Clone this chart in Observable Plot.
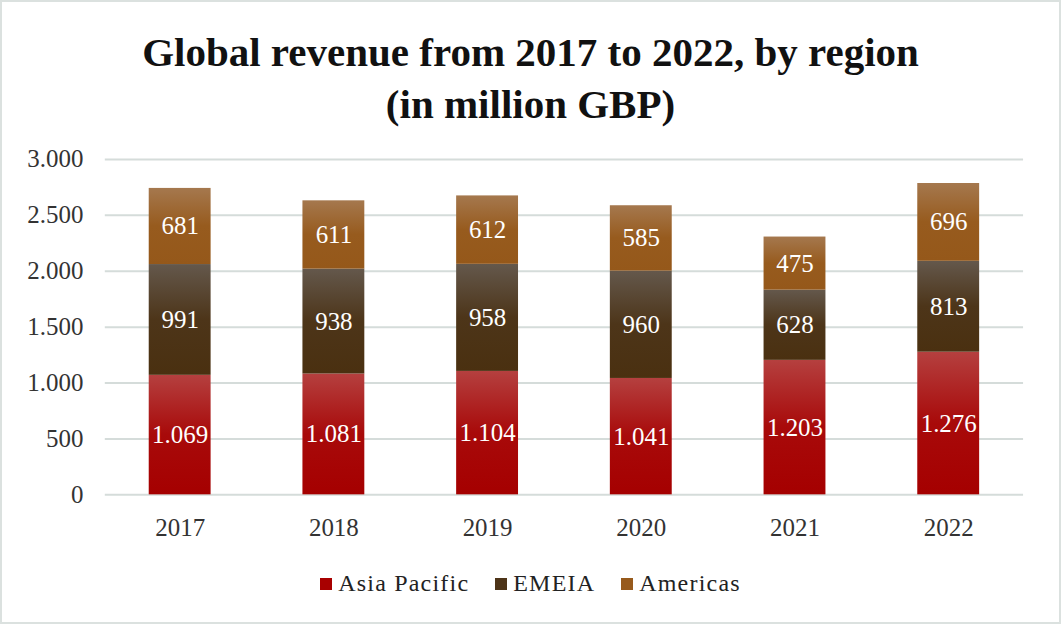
<!DOCTYPE html>
<html>
<head>
<meta charset="utf-8">
<script src="https://cdn.jsdelivr.net/npm/d3@7"></script>
<script src="https://cdn.jsdelivr.net/npm/@observablehq/plot@0.6"></script>
<style>
  html, body { margin: 0; padding: 0; background: #fff; }
  #wrap { position: relative; width: 1061px; height: 624px; box-sizing: border-box; border: 2px solid #dbe1df; overflow: hidden; font-family: "Liberation Serif", "Times New Roman", serif; }
  #title { position: absolute; top: 24px; left: 0; width: 100%; text-align: center; font-weight: 700; font-size: 41px; line-height: 52px; color: #111; }
  #chart { position: absolute; top: 138px; left: -2px; }
  #legend { position: absolute; top: 568px; left: 0; width: 100%; display: flex; justify-content: center; gap: 26px; font-size: 24px; letter-spacing: 1.2px; color: #222; }
  #legend span.item { display: flex; align-items: center; }
  #legend i { display: inline-block; width: 12px; height: 12px; margin-right: 6px; }
</style>
</head>
<body>
<div id="wrap">
  <div id="title">Global revenue from 2017 to 2022, by region<br>(in million GBP)</div>
  <div id="chart"></div>
  <div id="legend"></div>
</div>
<script>
const years = ["2017", "2018", "2019", "2020", "2021", "2022"];
const regions = ["Asia Pacific", "EMEIA", "Americas"];
const asiaPacific = [1069, 1081, 1104, 1041, 1203, 1276];
const emeia = [991, 938, 958, 960, 628, 813];
const americas = [681, 611, 612, 585, 475, 696];
const yTicks = [0, 500, 1000, 1500, 2000, 2500, 3000];
const solidColors = ["#a80000", "#4d3418", "#975a1c"];
const gradientStops = [
  ["#b5403f", "#a80a0a", "#a50000"],
  ["#64584c", "#4d3519", "#4a3010"],
  ["#a5784e", "#975b1e", "#95581a"]
];

const series = [asiaPacific, emeia, americas];
const data = [];
years.forEach((yr, i) => {
  regions.forEach((r, j) => data.push({year: yr, region: r, value: series[j][i]}));
});

const locale = d3.formatLocale({decimal: ",", thousands: ".", grouping: [3], currency: ["", ""]});
const fmt = locale.format(",d");

const gradIds = ["gAsia", "gEmeia", "gAmericas"];

const plot = Plot.plot({
  width: 1061,
  height: 420,
  marginTop: 19,
  marginBottom: 65,
  marginLeft: 105,
  marginRight: 36,
  style: {fontFamily: "'Liberation Serif', 'Times New Roman', serif", fontSize: "25px", color: "#333", background: "transparent"},
  x: {domain: years, paddingInner: 0.6, paddingOuter: 0.28, label: null},
  y: {domain: [0, 3000], ticks: yTicks, label: null},
  color: {domain: regions, range: gradIds.map(id => `url(#${id})`)},
  marks: [
    Plot.gridY(yTicks, {stroke: "#d5dcda", strokeOpacity: 1, strokeWidth: 2}),
    Plot.axisY({ticks: yTicks, tickSize: 0, tickPadding: 22, tickFormat: d => fmt(d), fontSize: 25, label: null}),
    Plot.axisX({tickSize: 0, tickPadding: 23, fontSize: 25, label: null}),
    Plot.barY(data, {x: "year", y: "value", fill: "region", order: regions}),
    Plot.text(data, Plot.stackY({x: "year", y: "value", z: "region", order: regions, text: d => fmt(d.value), fill: "white", fontSize: 25}))
  ]
});

// gradient definitions
const svg = d3.select(plot);
const defs = svg.insert("defs", ":first-child");
gradIds.forEach((id, i) => {
  const g = defs.append("linearGradient").attr("id", id).attr("x1", 0).attr("y1", 0).attr("x2", 0).attr("y2", 1);
  g.append("stop").attr("offset", "0%").attr("stop-color", gradientStops[i][0]);
  g.append("stop").attr("offset", "50%").attr("stop-color", gradientStops[i][1]);
  g.append("stop").attr("offset", "100%").attr("stop-color", gradientStops[i][2]);
});

document.getElementById("chart").appendChild(plot);

const legend = document.getElementById("legend");
regions.forEach((r, i) => {
  const s = document.createElement("span");
  s.className = "item";
  const sw = document.createElement("i");
  sw.style.background = solidColors[i];
  s.appendChild(sw);
  s.appendChild(document.createTextNode(r));
  legend.appendChild(s);
});
</script>
</body>
</html>
